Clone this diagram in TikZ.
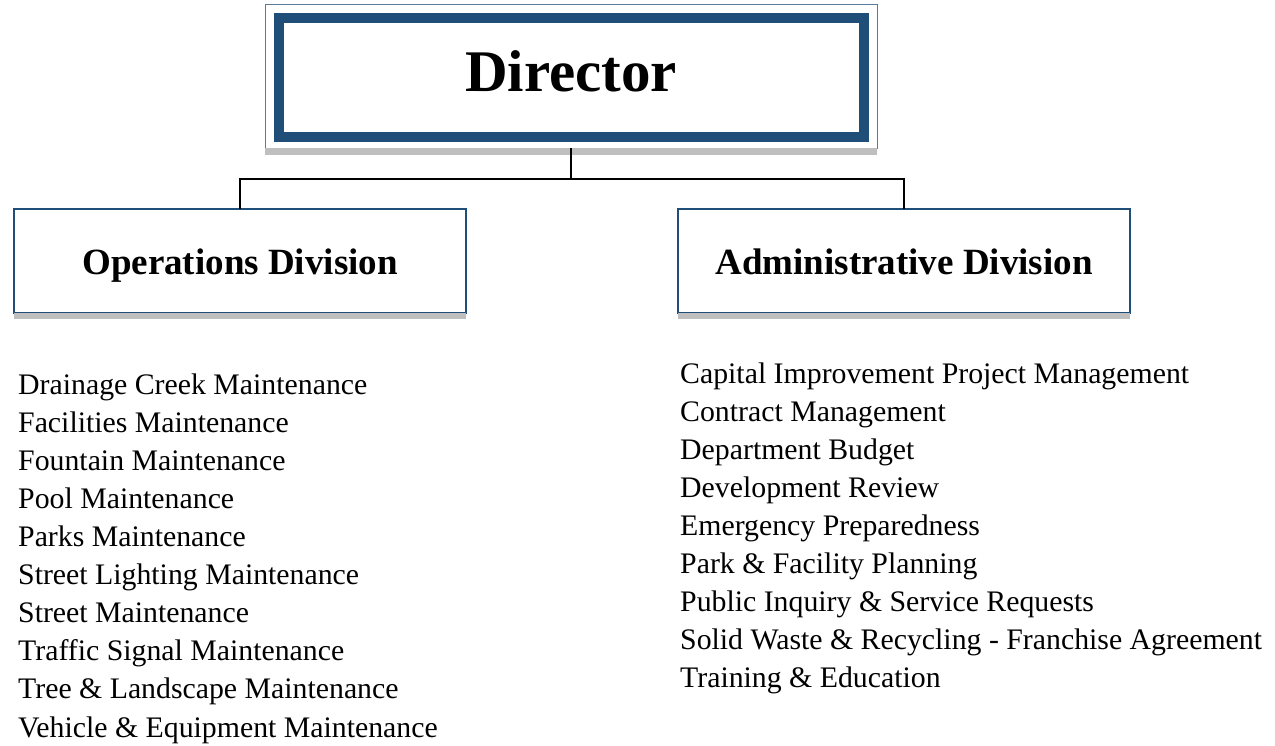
\documentclass[tikz,border=0pt]{standalone}
\usepackage{fontspec}
\setmainfont{Liberation Serif}
\usetikzlibrary{positioning}
\definecolor{dirblue}{HTML}{1F4E79}
\definecolor{framegray}{HTML}{5B7A99}
\definecolor{shadowgray}{HTML}{BFBFBF}
\tikzset{
  headbox/.style={draw=framegray,line width=1pt,fill=white,minimum width=612pt,minimum height=144pt,
    inner sep=0pt,outer sep=0pt,text depth=10pt,font=\bfseries\fontsize{59}{66}\selectfont},
  divbox/.style={draw=dirblue,line width=2pt,fill=white,minimum width=452pt,minimum height=104pt,
    inner sep=0pt,outer sep=0pt,text height=27pt,text depth=0pt,font=\bfseries\fontsize{37}{42}\selectfont},
  shade/.style={fill=shadowgray},
  link/.style={line width=1.9pt,black},
  item/.style={anchor=base west,inner sep=0pt,font=\fontsize{29.8}{34}\selectfont}
}
\begin{document}
\begin{tikzpicture}[x=1pt,y=-1pt]
        \useasboundingbox (0,0) rectangle (1275,745);

        % director box with inner thick border
        \node[headbox] (dir) at (571,76) {Director};
        \draw[dirblue,line width=10pt] ([shift={(13.5,14)}]dir.north west) rectangle ([shift={(-13,-11.3)}]dir.south east);
        \fill[shade] (dir.south west) rectangle ([yshift=-7pt]dir.south east);

        % division boxes
        \node[divbox] (ops) at (240,261) {Operations Division};
        \node[divbox] (adm) at (904,261) {Administrative Division};
        \fill[shade] (ops.south west) rectangle ([yshift=-6pt]ops.south east);
        \fill[shade] (adm.south west) rectangle ([yshift=-6pt]adm.south east);

        % connectors
        \coordinate (bus) at ([yshift=-31pt]dir.south);
        \draw[link] (dir.south) -- (bus);
        \draw[link] (ops.north) |- (bus) -| (adm.north);

        % task lists
        \foreach \txt [count=\i] in {Drainage Creek Maintenance,Facilities Maintenance,Fountain Maintenance,
            Pool Maintenance,Parks Maintenance,Street Lighting Maintenance,Street Maintenance,
            Traffic Signal Maintenance,Tree \& Landscape Maintenance,Vehicle \& Equipment Maintenance}
          \node[item] (op\i) at (18,356+38.1*\i) {\txt};
        \foreach \txt [count=\i] in {Capital Improvement Project Management,Contract Management,Department Budget,
            Development Review,Emergency Preparedness,Park \& Facility Planning,
            Public Inquiry \& Service Requests,Solid Waste \& Recycling - Franchise Agreement,Training \& Education}
          \node[item] (ad\i) at (680,345+38*\i) {\txt};
\end{tikzpicture}
\end{document}
